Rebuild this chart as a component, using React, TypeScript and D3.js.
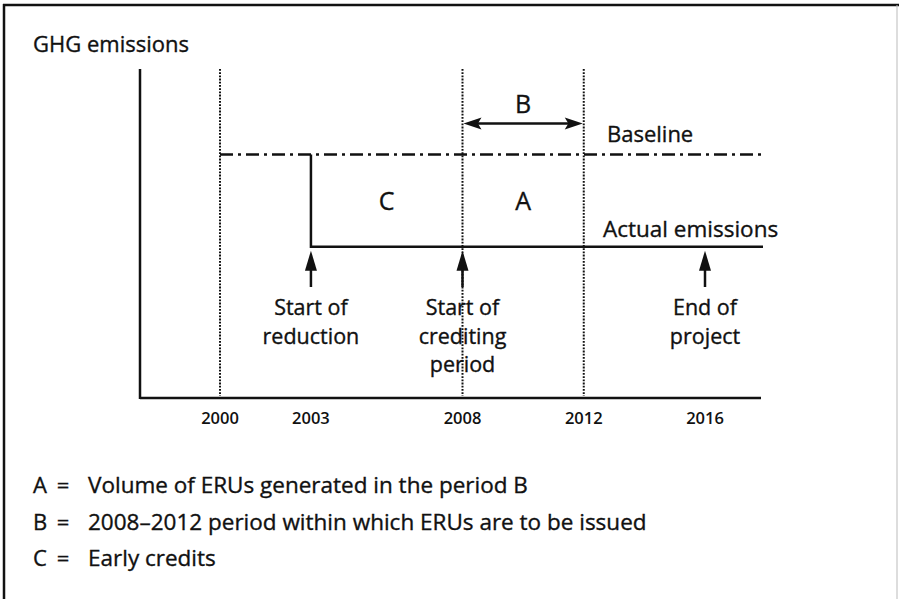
import React from 'react';
import * as d3 from 'd3';

// schematic data
const tickYears = [2000, 2003, 2008, 2012, 2016];
const refYears = [2000, 2008, 2012];
const baselineFrom = 2000;
const reductionFrom = 2003;
const creditFrom = 2008;
const creditTo = 2012;
const baselineLevel = 74;
const actualLevel = 46;
const arrowYears = [2003, 2008, 2016];
const arrowLabels = [
  ['Start of', 'reduction'],
  ['Start of', 'crediting', 'period'],
  ['End of', 'project'],
];
const areaKeys = ['C', 'A'];
const areaSpans = [[2003, 2008], [2008, 2012]];
const legendKeys = ['A', 'B', 'C'];
const legendTexts = [
  'Volume of ERUs generated in the period B',
  '2008\u20132012 period within which ERUs are to be issued',
  'Early credits',
];

const W = 899;
const H = 599;
const font = '"Open Sans", "Noto Sans", sans-serif';
const ink = '#111';

export default function App() {
  const left = 140;
  const right = 761;
  const top = 69;
  const bottom = 398;
  const lineEnd = 763;

  const x = d3.scaleLinear().domain([2000, 2016]).range([220, 705]);
  const y = d3.scaleLinear().domain([0, 100]).range([bottom, top]);

  const yBase = y(baselineLevel);
  const yAct = y(actualLevel);

  const tri = (cx: number, tipY: number, dir: number, len = 20, half = 6) => {
    const p = d3.path();
    p.moveTo(cx, tipY);
    p.lineTo(cx - half, tipY + dir * len);
    p.lineTo(cx + half, tipY + dir * len);
    p.closePath();
    return p.toString();
  };
  const triH = (tipX: number, cy: number, dir: number, len = 18, half = 6) => {
    const p = d3.path();
    p.moveTo(tipX, cy);
    p.lineTo(tipX + dir * len, cy - half);
    p.lineTo(tipX + dir * len * 0.8, cy);
    p.lineTo(tipX + dir * len, cy + half);
    p.closePath();
    return p.toString();
  };

  const bArrowY = yBase - 31;
  const txt = { fill: ink, stroke: ink, strokeWidth: 0.35 };

  return (
    <svg
      width={W}
      height={H}
      style={{ position: 'absolute', left: 0, top: 0, background: '#fff', fontFamily: font }}
    >
      {/* frame */}
      <line x1={4} y1={4} x2={4} y2={H} stroke={ink} strokeWidth={2.5} />
      <line x1={3} y1={5} x2={W} y2={5} stroke={ink} strokeWidth={2.5} />
      <line x1={897} y1={5} x2={897} y2={H} stroke="#bbb" strokeWidth={1} />

      <text x={33} y={52} fontSize={22} {...txt}>GHG emissions</text>

      {/* dotted reference lines */}
      {refYears.map((yr) => (
        <line key={yr} x1={x(yr)} x2={x(yr)} y1={top} y2={bottom - 2}
          stroke={ink} strokeWidth={2} strokeDasharray="1.8,1.4" />
      ))}

      {/* axes */}
      <line x1={left} x2={left} y1={top} y2={bottom + 1} stroke={ink} strokeWidth={2.5} />
      <line x1={left} x2={right} y1={bottom} y2={bottom} stroke={ink} strokeWidth={2.5} />
      {tickYears.map((yr) => (
        <text key={yr} x={x(yr)} y={424} fontSize={16.5} fontWeight={600} textAnchor="middle" fill={ink}>{yr}</text>
      ))}

      {/* baseline */}
      <line x1={x(baselineFrom)} x2={lineEnd} y1={yBase} y2={yBase}
        stroke={ink} strokeWidth={2.5} strokeDasharray="13,5,3,5" />
      <text x={607} y={yBase - 13} fontSize={22} {...txt}>Baseline</text>

      {/* actual emissions */}
      <path d={`M${x(reductionFrom)},${yBase}V${yAct}H${lineEnd}`} fill="none" stroke={ink} strokeWidth={2.5} />
      <text x={603} y={yAct - 10} fontSize={22.5} {...txt}>Actual emissions</text>

      {/* area letters */}
      {areaKeys.map((k, i) => (
        <text key={k} x={(x(areaSpans[i][0]) + x(areaSpans[i][1])) / 2} y={210}
          fontSize={25} textAnchor="middle" {...txt}>{k}</text>
      ))}

      {/* period B */}
      <line x1={x(creditFrom) + 8} x2={x(creditTo) - 8} y1={bArrowY} y2={bArrowY} stroke={ink} strokeWidth={2.5} />
      <path d={triH(x(creditFrom) + 1, bArrowY, 1)} fill={ink} />
      <path d={triH(x(creditTo) - 1, bArrowY, -1)} fill={ink} />
      <text x={(x(creditFrom) + x(creditTo)) / 2} y={113} fontSize={25} textAnchor="middle" {...txt}>B</text>

      {/* vertical arrows with notes */}
      {arrowYears.map((yr, i) => {
        const cx = x(yr);
        const tip = yAct + 4;
        return (
          <g key={yr}>
            <path d={tri(cx, tip, 1)} fill={ink} />
            <line x1={cx} x2={cx} y1={tip + 15} y2={287} stroke={ink} strokeWidth={2.5} />
            {arrowLabels[i].map((s, j) => (
              <text key={j} x={cx} y={315 + j * 28.5} fontSize={21.5} textAnchor="middle" {...txt}>{s}</text>
            ))}
          </g>
        );
      })}

      {/* legend */}
      {legendKeys.map((k, i) => (
        <g key={k}>
          <text x={33} y={493 + i * 36.5} fontSize={22} {...txt}>{k}</text>
          <text x={63} y={493 + i * 36.5} fontSize={22} textAnchor="middle" {...txt}>=</text>
          <text x={88} y={493 + i * 36.5} fontSize={22.5} {...txt}>{legendTexts[i]}</text>
        </g>
      ))}
    </svg>
  );
}
